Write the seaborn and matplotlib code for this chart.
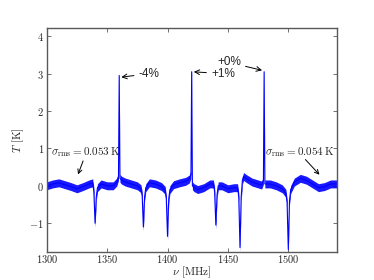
import numpy as np
import pandas as pd
import matplotlib
matplotlib.use("Agg")
import matplotlib.pyplot as plt
import seaborn as sns

# spectrum (MHz, K)
freq = [1300, 1305, 1310, 1315, 1320, 1325, 1330, 1335, 1338, 1339, 1340, 1341, 1342,
        1345, 1350, 1355, 1358, 1359.4, 1360, 1360.6, 1362, 1365, 1370, 1375, 1378,
        1379, 1380, 1381, 1382, 1385, 1390, 1395, 1398, 1399, 1400, 1401, 1402, 1405,
        1410, 1415, 1418, 1419.4, 1420, 1420.6, 1422, 1425, 1430, 1435, 1438, 1439,
        1440, 1441, 1442, 1445, 1450, 1455, 1458, 1459, 1460, 1461, 1462, 1463, 1465,
        1470, 1475, 1478, 1479.4, 1480, 1480.6, 1482, 1485, 1490, 1495, 1498, 1499,
        1500, 1501, 1502, 1505, 1510, 1515, 1520, 1525, 1530, 1535, 1540]
temp = [0.0, 0.05, 0.08, 0.03, -0.02, -0.08, -0.02, 0.05, 0.08, -0.15, -1.0, -0.3, -0.05,
        0.05, 0.0, 0.0, 0.1, 0.25, 2.95, 0.2, 0.15, 0.1, 0.05, 0.0, -0.08,
        -0.25, -1.1, -0.3, -0.05, 0.08, 0.05, -0.02, -0.12, -0.35, -1.35, -0.35, -0.1, 0.03,
        0.08, 0.12, 0.18, 0.3, 3.05, 0.0, -0.05, -0.1, -0.05, 0.05, 0.05, -0.15,
        -1.05, -0.25, 0.0, 0.0, -0.08, -0.05, -0.05, -0.3, -1.65, -0.3, 0.15, 0.25, 0.2,
        0.1, 0.05, 0.02, 0.15, 3.05, 0.05, 0.05, 0.05, 0.0, -0.08, -0.2, -0.45,
        -1.7, -0.4, -0.1, 0.1, 0.2, 0.15, 0.05, -0.05, -0.02, 0.05, 0.05]
sigma_left = 0.053
sigma_right = 0.054

df = pd.DataFrame({"nu": freq, "T": temp})

sns.set_style("ticks")
plt.rcParams.update({
    "font.family": "serif",
    "font.serif": ["cmr10", "DejaVu Serif"],
    "mathtext.fontset": "cm",
    "axes.formatter.use_mathtext": True,
    "font.size": 7.5,
    "xtick.direction": "in",
    "ytick.direction": "in",
    "xtick.top": True,
    "ytick.right": True,
})

fig, ax = plt.subplots(figsize=(3.74, 2.8), dpi=100)
fig.subplots_adjust(left=0.125, right=0.9, bottom=0.1, top=0.9)

# noise band (about +-2 sigma_rms)
band = 2 * sigma_left
ax.fill_between(df["nu"], df["T"] - band, df["T"] + band, color="#0000ff", lw=0, alpha=0.9)
sns.lineplot(data=df, x="nu", y="T", color="#0000ff", lw=0.8, ax=ax)

ax.set_xlim(1300, 1540)
ax.set_ylim(-1.77, 4.22)
ax.set_xticks([1300, 1350, 1400, 1450, 1500])
ax.set_yticks([-1, 0, 1, 2, 3, 4])
ax.set_xlabel(r"$\nu$ [MHz]", fontsize=8)
ax.set_ylabel(r"$T$ [K]", fontsize=8)
ax.xaxis.set_label_coords(0.5, -0.058)
ax.yaxis.set_label_coords(-0.07, 0.5)
for s in ax.spines.values():
    s.set_color("0.35")
    s.set_linewidth(1.0)
ax.tick_params(length=3, width=0.6, color="0.35", pad=2)
ax.tick_params(axis="x", pad=1)

arrow = dict(arrowstyle="->", color="k", lw=0.7, shrinkA=1, shrinkB=1)
pct_font = dict(family="Liberation Sans", fontsize=8.5, va="center")
ax.annotate("-4%", xy=(1360.6, 2.9), xytext=(1376, 3.0), arrowprops=arrow, **pct_font)
ax.annotate("+1%", xy=(1420.6, 3.05), xytext=(1436, 3.0), arrowprops=arrow, **pct_font)
ax.annotate("+0%", xy=(1479.4, 3.08), xytext=(1441, 3.3), arrowprops=arrow, **pct_font)

ax.text(1303.3, 0.89, r"$\sigma_{\rm rms} = %.3f\,$K" % sigma_left, fontsize=8, va="center")
ax.annotate("", xy=(1325.5, 0.27), xytext=(1330.5, 0.70), arrowprops=arrow)
ax.text(1480.5, 0.89, r"$\sigma_{\rm rms} = %.3f\,$K" % sigma_right, fontsize=8, va="center")
ax.annotate("", xy=(1526.6, 0.27), xytext=(1513.4, 0.73), arrowprops=arrow)

fig.savefig("out.png", dpi=100)
